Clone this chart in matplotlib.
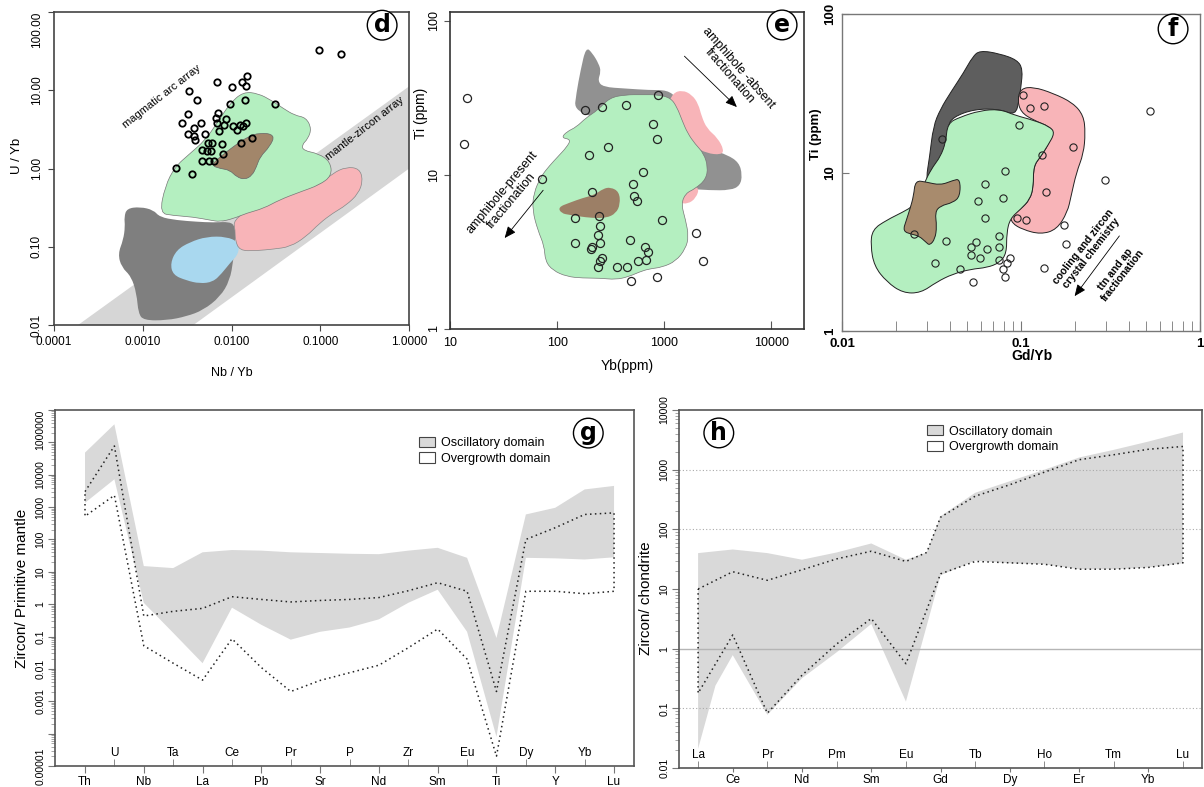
import numpy as np
import matplotlib
matplotlib.use('Agg')
import matplotlib.pyplot as plt
from matplotlib.path import Path
from matplotlib.patches import PathPatch, Polygon, Patch
from matplotlib.ticker import FixedLocator, FixedFormatter, LogLocator, NullFormatter

plt.rcParams['font.family'] = ['Liberation Sans', 'DejaVu Sans']

# ---------------- panel d : U/Yb vs Nb/Yb (log10 values) ----------------
d_band = [[-3.73, -2.0], [0.0, 1.05], [0.0, 0.0], [-2.43, -2.0]]
d_green = [[-2.81, -0.57], [-2.75, -0.23], [-2.64, 0.02], [-2.47, 0.19], [-2.30, 0.36],
           [-2.17, 0.57], [-2.02, 0.83], [-1.87, 0.98], [-1.70, 0.96], [-1.55, 0.87],
           [-1.42, 0.77], [-1.29, 0.68], [-1.16, 0.65], [-1.10, 0.51], [-1.14, 0.38],
           [-1.21, 0.30], [-1.19, 0.23], [-1.02, 0.19], [-0.89, 0.09], [-0.87, -0.09],
           [-1.01, -0.21], [-1.23, -0.30], [-1.46, -0.40], [-1.64, -0.51], [-1.83, -0.57],
           [-1.98, -0.64], [-2.13, -0.68], [-2.24, -0.66], [-2.43, -0.62], [-2.66, -0.60]]
d_brown = [[-2.23, 0.04], [-2.13, 0.15], [-1.98, 0.28], [-1.83, 0.40], [-1.68, 0.46],
           [-1.51, 0.43], [-1.57, 0.28], [-1.68, 0.15], [-1.72, 0.02], [-1.77, -0.09],
           [-1.85, -0.14], [-1.94, -0.11], [-2.02, -0.02], [-2.13, 0.0]]
d_pink = [[-1.98, -0.66], [-1.76, -0.49], [-1.49, -0.36], [-1.23, -0.28], [-1.01, -0.21],
          [-0.86, -0.06], [-0.71, 0.02], [-0.56, 0.0], [-0.52, -0.15], [-0.57, -0.32],
          [-0.71, -0.47], [-0.86, -0.57], [-1.01, -0.70], [-1.16, -0.87], [-1.34, -1.0],
          [-1.53, -1.03], [-1.72, -1.05], [-1.91, -1.05], [-1.96, -0.91], [-1.96, -0.79]]
d_gray = [[-3.18, -0.51], [-3.03, -0.49], [-2.88, -0.53], [-2.81, -0.62], [-2.62, -0.66],
          [-2.39, -0.68], [-2.21, -0.69], [-2.02, -0.68], [-1.96, -0.74], [-1.96, -0.91],
          [-1.98, -1.17], [-2.02, -1.43], [-2.13, -1.64], [-2.32, -1.81], [-2.51, -1.89],
          [-2.73, -1.94], [-2.99, -1.94], [-3.05, -1.85], [-3.07, -1.60], [-3.13, -1.38],
          [-3.24, -1.26], [-3.28, -1.09], [-3.22, -0.91], [-3.20, -0.74], [-3.21, -0.62]]
d_blue = [[-2.69, -1.21], [-2.62, -1.04], [-2.47, -0.94], [-2.28, -0.87], [-2.06, -0.87],
          [-1.92, -0.94], [-1.92, -1.09], [-2.02, -1.21], [-2.11, -1.34], [-2.21, -1.45],
          [-2.36, -1.47], [-2.51, -1.43], [-2.66, -1.36]]
d_pts_x = [-1.02, -0.77, -1.83, -1.88, -1.84, -2.16, -1.99, -2.48, -2.39, -2.02, -1.85, -1.51,
           -2.49, -2.15, -2.56, -2.34, -2.17, -2.06, -2.16, -2.09, -1.98, -1.91, -1.84, -1.87,
           -1.94, -2.42, -2.49, -2.30, -2.14, -2.41, -2.42, -2.27, -2.22, -2.11, -2.33, -2.28,
           -2.23, -2.10, -1.89, -1.77, -2.33, -2.25, -2.20, -2.63, -2.45]
d_pts_y = [1.52, 1.47, 1.18, 1.11, 1.05, 1.10, 1.04, 0.99, 0.87, 0.83, 0.87, 0.82,
           0.70, 0.71, 0.58, 0.58, 0.64, 0.63, 0.58, 0.55, 0.54, 0.55, 0.58, 0.54,
           0.49, 0.52, 0.44, 0.44, 0.48, 0.36, 0.42, 0.32, 0.33, 0.31, 0.24, 0.23,
           0.23, 0.19, 0.33, 0.39, 0.09, 0.09, 0.10, 0.01, -0.07]

# ---------------- panel e : Ti vs Yb (log10 values) ----------------
e_green = [[2.49, 1.50], [2.64, 1.52], [2.80, 1.52], [2.94, 1.52], [3.06, 1.50], [3.12, 1.44],
           [3.17, 1.35], [3.22, 1.27], [3.29, 1.20], [3.37, 1.14], [3.41, 1.05], [3.39, 0.97],
           [3.29, 0.91], [3.20, 0.88], [3.16, 0.81], [3.20, 0.71], [3.23, 0.60], [3.20, 0.52],
           [3.11, 0.44], [2.98, 0.40], [2.86, 0.39], [2.77, 0.37], [2.67, 0.34], [2.55, 0.32],
           [2.40, 0.33], [2.24, 0.33], [2.09, 0.34], [1.96, 0.38], [1.89, 0.44], [1.88, 0.54],
           [1.82, 0.64], [1.77, 0.77], [1.78, 0.88], [1.85, 0.99], [1.93, 1.06], [2.01, 1.12],
           [2.09, 1.18], [2.13, 1.23], [2.04, 1.24], [2.09, 1.28], [2.18, 1.31], [2.27, 1.37],
           [2.38, 1.42]]
e_gray = [[2.16, 1.41], [2.18, 1.53], [2.22, 1.68], [2.27, 1.83], [2.33, 1.79], [2.39, 1.72],
          [2.41, 1.67], [2.38, 1.61], [2.43, 1.57], [2.64, 1.56], [2.86, 1.55], [3.03, 1.55],
          [3.12, 1.50], [3.17, 1.42], [3.23, 1.31], [3.33, 1.23], [3.45, 1.16], [3.59, 1.13],
          [3.70, 1.08], [3.73, 1.00], [3.71, 0.93], [3.62, 0.90], [3.42, 0.90], [3.23, 0.91],
          [3.05, 1.01], [2.80, 1.23], [2.49, 1.35]]
e_pink = [[3.08, 1.53], [3.17, 1.55], [3.26, 1.52], [3.32, 1.46], [3.35, 1.38], [3.40, 1.30],
          [3.50, 1.24], [3.56, 1.16], [3.53, 1.13], [3.40, 1.14], [3.29, 1.18], [3.26, 1.05],
          [3.23, 0.93], [3.33, 0.92], [3.30, 0.85], [3.22, 0.81], [3.14, 0.82], [3.08, 0.92],
          [3.05, 1.16], [3.03, 1.44]]
e_brown = [[2.01, 0.79], [2.12, 0.82], [2.24, 0.85], [2.35, 0.87], [2.43, 0.91], [2.50, 0.92],
           [2.58, 0.89], [2.59, 0.81], [2.55, 0.75], [2.46, 0.72], [2.33, 0.72], [2.21, 0.73],
           [2.12, 0.74], [2.04, 0.75]]
e_pts_x = [1.16, 1.13, 2.94, 2.26, 2.42, 2.64, 2.90, 2.93, 2.30, 2.48, 2.80, 1.86, 2.33,
           2.71, 2.72, 2.75, 2.17, 2.39, 2.40, 2.98, 2.17, 2.38, 2.40, 2.33, 2.32, 2.68,
           2.82, 2.85, 2.83, 2.76, 2.42, 2.40, 2.38, 2.56, 2.65, 2.93, 2.69, 3.30, 3.36]
e_pts_y = [1.50, 1.20, 1.52, 1.42, 1.44, 1.45, 1.33, 1.23, 1.13, 1.18, 1.02, 0.97, 0.89,
           0.94, 0.86, 0.83, 0.72, 0.73, 0.67, 0.71, 0.56, 0.61, 0.56, 0.53, 0.52, 0.58,
           0.53, 0.50, 0.45, 0.44, 0.46, 0.44, 0.40, 0.40, 0.40, 0.34, 0.31, 0.62, 0.44]

# ---------------- panel f : Ti vs Gd/Yb (log10 values) ----------------
f_dark = [[-1.53, 0.96], [-1.51, 1.10], [-1.49, 1.29], [-1.45, 1.40], [-1.39, 1.51],
          [-1.32, 1.63], [-1.27, 1.73], [-1.23, 1.77], [-1.12, 1.75], [-1.02, 1.71],
          [-0.99, 1.65], [-1.00, 1.54], [-1.01, 1.46], [-1.03, 1.36], [-1.12, 1.40],
          [-1.26, 1.40], [-1.38, 1.35], [-1.41, 1.29], [-1.41, 1.12], [-1.45, 1.02],
          [-1.51, 0.95]]
f_pink = [[-1.00, 1.53], [-0.93, 1.54], [-0.82, 1.50], [-0.71, 1.44], [-0.65, 1.36],
          [-0.64, 1.25], [-0.65, 1.12], [-0.69, 1.00], [-0.72, 0.85], [-0.74, 0.75],
          [-0.80, 0.64], [-0.89, 0.61], [-0.99, 0.64], [-1.05, 0.68], [-1.06, 0.73],
          [-1.00, 0.77], [-0.95, 0.83], [-0.93, 0.91], [-0.93, 1.04], [-0.89, 1.10],
          [-0.85, 1.17], [-0.82, 1.25], [-0.84, 1.29], [-0.93, 1.33], [-1.00, 1.38],
          [-1.02, 1.46]]
f_green = [[-1.41, 1.31], [-1.34, 1.35], [-1.23, 1.39], [-1.12, 1.40], [-1.03, 1.36],
           [-0.93, 1.33], [-0.84, 1.29], [-0.81, 1.25], [-0.85, 1.17], [-0.89, 1.10],
           [-0.93, 1.04], [-0.93, 0.91], [-0.95, 0.83], [-1.00, 0.77], [-1.06, 0.71],
           [-1.08, 0.62], [-1.08, 0.49], [-1.12, 0.43], [-1.19, 0.40], [-1.28, 0.39],
           [-1.38, 0.36], [-1.47, 0.31], [-1.56, 0.24], [-1.66, 0.24], [-1.75, 0.31],
           [-1.82, 0.41], [-1.84, 0.54], [-1.83, 0.64], [-1.75, 0.70], [-1.66, 0.75],
           [-1.60, 0.79], [-1.56, 0.87], [-1.53, 0.96], [-1.49, 1.04], [-1.45, 1.10],
           [-1.42, 1.19]]
f_brown = [[-1.59, 0.95], [-1.53, 0.94], [-1.45, 0.92], [-1.38, 0.95], [-1.34, 0.96],
           [-1.34, 0.85], [-1.38, 0.81], [-1.45, 0.79], [-1.48, 0.75], [-1.47, 0.66],
           [-1.48, 0.58], [-1.51, 0.54], [-1.53, 0.56], [-1.57, 0.60], [-1.61, 0.61],
           [-1.66, 0.63], [-1.64, 0.70], [-1.62, 0.77], [-1.60, 0.85]]
f_pts_x = [-0.99, -0.95, -0.87, -0.28, -1.01, -1.44, -0.71, -0.88, -1.09, -1.20, -0.53,
           -1.10, -1.24, -0.86, -1.20, -1.02, -0.97, -0.76, -1.60, -1.42, -1.12, -1.25,
           -1.28, -1.28, -1.19, -1.12, -0.75, -1.23, -1.12, -1.08, -1.06, -1.10, -1.48,
           -1.34, -1.09, -1.27, -0.87]
f_pts_y = [1.49, 1.41, 1.42, 1.39, 1.30, 1.21, 1.16, 1.11, 1.01, 0.93, 0.95,
           0.84, 0.82, 0.88, 0.71, 0.71, 0.70, 0.67, 0.61, 0.57, 0.60, 0.56,
           0.53, 0.48, 0.52, 0.53, 0.55, 0.46, 0.45, 0.43, 0.46, 0.39, 0.43,
           0.39, 0.34, 0.31, 0.40]

# ---------------- panel g : primitive-mantle normalised ----------------
g_elements = ['Th', 'U', 'Nb', 'Ta', 'La', 'Ce', 'Pb', 'Pr', 'Sr', 'P', 'Nd', 'Zr', 'Sm',
              'Eu', 'Ti', 'Dy', 'Y', 'Yb', 'Lu']
g_osc_upper = [4.8e4, 3.6e5, 15, 13, 40, 47, 45, 40, 38, 36, 35, 45, 55, 27, 0.09, 590, 950, 3500, 4500]
g_osc_lower = [1350, 7200, 1.1, 0.13, 0.015, 0.78, 0.23, 0.08, 0.14, 0.19, 0.34, 1.1, 2.8, 0.14,
               8e-5, 27, 26, 24, 28]
g_over_upper = [3000, 7.7e4, 0.43, 0.6, 0.74, 1.7, 1.4, 1.17, 1.3, 1.4, 1.6, 2.6, 4.6, 2.5,
                0.002, 100, 230, 590, 660]
g_over_lower = [520, 2300, 0.052, 0.015, 0.0045, 0.085, 0.011, 0.002, 0.0044, 0.0076, 0.013,
                0.045, 0.17, 0.02, 2e-5, 2.5, 2.5, 2.1, 2.5]
g_ylabels = ['0.00001', '', '0.001', '0.01', '0.1', '1', '10', '100', '1000', '10000', '', '1000000']

# ---------------- panel h : chondrite normalised REE ----------------
h_elements = ['La', 'Ce', 'Pr', 'Nd', 'Pm', 'Sm', 'Eu', 'Gd', 'Tb', 'Dy', 'Ho', 'Er', 'Tm', 'Yb', 'Lu']
h_osc_upper_x = [0, 1, 2, 3, 4, 5, 6, 6.6, 7, 8, 9, 10, 11, 12, 13, 14]
h_osc_upper = [40, 46, 40, 31, 41, 58, 31, 41, 166, 410, 640, 1000, 1600, 2150, 2960, 4200]
h_osc_lower_x = [0, 0.5, 1, 2, 3, 4, 5, 6, 7, 8, 9, 10, 11, 12, 13, 14]
h_osc_lower = [0.021, 0.24, 0.78, 0.078, 0.32, 0.87, 2.6, 0.13, 17, 30, 27, 26, 21.5, 21.5, 23, 27]
h_over_upper_x = [0, 1, 2, 3, 4, 5, 6, 6.6, 7, 8, 9, 10, 11, 12, 13, 14]
h_over_upper = [10, 19.5, 14, 21, 32, 43, 29, 41, 160, 360, 560, 910, 1470, 1780, 2200, 2450]
h_over_lower_x = list(range(15))
h_over_lower = [0.18, 1.7, 0.083, 0.36, 1.2, 3.2, 0.56, 18, 29, 27.5, 26, 21.5, 21.5, 23, 27.5]
h_ylabels = ['0.01', '0.1', '1', '10', '100', '1000', '10000']

GREEN = '#b4efc0'
PINK = '#f8b4b8'
BROWN = '#a2866a'
BLUE = '#a9d8ef'


def blob(ax, pts, fc, ec='none', lw=0.6, z=1):
    # smooth closed outline through quadratic curves (log space -> data)
    p = np.array(pts, dtype=float)
    mids = (p + np.roll(p, -1, axis=0)) / 2
    verts = [mids[-1]]
    codes = [Path.MOVETO]
    for i in range(len(p)):
        verts += [p[i], mids[i]]
        codes += [Path.CURVE3, Path.CURVE3]
    verts = 10 ** np.array(verts)
    ax.add_patch(PathPatch(Path(verts, codes), fc=fc, ec=ec, lw=lw, zorder=z))


def letter(ax, x, y, s):
    ax.text(x, y, s, transform=ax.transAxes, fontsize=17, fontweight='bold',
            ha='center', va='center', zorder=10, family='DejaVu Sans',
            bbox=dict(boxstyle='circle,pad=0.12', fc='white', ec='black', lw=1))


def spines(ax, c, lw):
    for s in ax.spines.values():
        s.set_color(c)
        s.set_linewidth(lw)


def top_label_down(ax):
    # the topmost y tick label hangs below its tick, as in the original figure
    ax.get_yticklabels()[-1].set_va('top')


fig = plt.figure(figsize=(12.04, 7.87), dpi=100)

# ======================= d =======================
ax = fig.add_axes([0.0449, 0.5870, 0.2949, 0.3977])
ax.set_xscale('log')
ax.set_yscale('log')
ax.set_xlim(1e-4, 1)
ax.set_ylim(0.01, 100)
ax.add_patch(Polygon(10 ** np.array(d_band), closed=True, fc='#d6d6d6', ec='none', zorder=0))
blob(ax, d_gray, '#7f7f7f', z=1)
blob(ax, d_blue, BLUE, z=2)
blob(ax, d_pink, PINK, ec='#888', lw=0.5, z=2)
blob(ax, d_green, GREEN, ec='#777', lw=0.5, z=3)
blob(ax, d_brown, BROWN, ec='#666', lw=0.5, z=4)
ax.plot(10 ** np.array(d_pts_x), 10 ** np.array(d_pts_y), 'o', ms=4.6, mfc='none',
        mec='black', mew=1.3, zorder=5)
ax.text(10 ** -2.79, 10 ** 0.915, 'magmatic arc array', rotation=38, fontsize=8,
        ha='center', va='center')
ax.text(10 ** -0.50, 10 ** 0.51, 'mantle-zircon array', rotation=38, fontsize=8,
        ha='center', va='center')
ax.minorticks_off()
ax.set_xticks([1e-4, 1e-3, 1e-2, 1e-1, 1])
ax.set_xticklabels(['0.0001', '0.0010', '0.0100', '0.1000', '1.0000'])
ax.set_yticks([0.01, 0.1, 1, 10, 100])
ax.set_yticklabels(['0.01', '0.10', '1.00', '10.00', '100.00'], rotation=90, va='center')
top_label_down(ax)
ax.tick_params(labelsize=8.5, length=4, color='#444', pad=4)
ax.set_xlabel('Nb / Yb', fontsize=9)
ax.set_ylabel('U / Yb', fontsize=9.5)
ax.xaxis.set_label_coords(0.5, -0.134)
ax.yaxis.set_label_coords(-0.087, 0.54)
spines(ax, '#444', 1.2)
letter(ax, 0.924, 0.958, 'd')

# ======================= e =======================
ax = fig.add_axes([0.3738, 0.5820, 0.2940, 0.4028])
ax.set_xscale('log')
ax.set_yscale('log')
ax.set_xlim(10, 2.03e4)
ax.set_ylim(1, 114)
blob(ax, e_gray, '#919191', z=1)
blob(ax, e_pink, PINK, z=2)
blob(ax, e_green, GREEN, ec='#777', lw=0.5, z=3)
blob(ax, e_brown, '#9c7f66', z=4)
ax.plot(10 ** np.array(e_pts_x), 10 ** np.array(e_pts_y), 'o', ms=5.8, mfc='none',
        mec='#222', mew=0.9, zorder=5)
ax.annotate('', xy=(10 ** 3.68, 10 ** 1.44), xytext=(10 ** 3.19, 10 ** 1.77),
            arrowprops=dict(arrowstyle='-|>,head_length=0.7,head_width=0.3', color='#777',
                            lw=0.6, fc='black', ec='black', shrinkA=0, shrinkB=0), zorder=6)
ax.annotate('', xy=(10 ** 1.51, 10 ** 0.59), xytext=(10 ** 1.87, 10 ** 0.90),
            arrowprops=dict(arrowstyle='-|>,head_length=0.7,head_width=0.3', color='#777',
                            lw=0.6, fc='black', ec='black', shrinkA=0, shrinkB=0), zorder=6)
ax.text(10 ** 3.65, 10 ** 1.67, 'amphibole -absent\nfractionation', rotation=-49,
        fontsize=9, ha='center', va='center', linespacing=1.0)
ax.text(10 ** 1.53, 10 ** 0.86, 'amphibole-present\nfractionation', rotation=50,
        fontsize=9, ha='center', va='center', linespacing=1.0)
ax.minorticks_off()
ax.set_xticks([10, 100, 1000, 10000])
ax.set_xticklabels(['10', '100', '1000', '10000'])
ax.set_yticks([1, 10, 100])
ax.set_yticklabels(['1', '10', '100'], rotation=90, va='center')
ax.tick_params(axis='x', direction='in', length=6, pad=6, labelsize=9, color='#555')
ax.tick_params(axis='y', direction='out', length=4, pad=3, labelsize=9, color='#555')
ax.set_xlabel('Yb(ppm)', fontsize=10)
ax.set_ylabel('Ti (ppm)', fontsize=10)
ax.xaxis.set_label_coords(0.5, -0.095)
ax.yaxis.set_label_coords(-0.062, 0.68)
spines(ax, '#333', 1.2)
letter(ax, 0.938, 0.959, 'e')

# ======================= f =======================
ax = fig.add_axes([0.6993, 0.5794, 0.2973, 0.4028])
ax.set_xscale('log')
ax.set_yscale('log')
ax.set_xlim(0.01, 1)
ax.set_ylim(1, 100)
blob(ax, f_dark, '#5e5e5e', ec='#222', lw=0.7, z=1)
blob(ax, f_pink, PINK, ec='#222', lw=0.7, z=1)
blob(ax, f_green, GREEN, ec='#222', lw=0.7, z=2)
blob(ax, f_brown, '#a88b6d', ec='#222', lw=0.7, z=3)
ax.plot(10 ** np.array(f_pts_x), 10 ** np.array(f_pts_y), 'o', ms=5.2, mfc='none',
        mec='#222', mew=0.8, zorder=5)
ax.annotate('', xy=(10 ** -0.70, 10 ** 0.22), xytext=(10 ** -0.45, 10 ** 0.60),
            arrowprops=dict(arrowstyle='-|>,head_length=0.7,head_width=0.3', color='black',
                            lw=0.6, shrinkA=0, shrinkB=0), zorder=6)
ax.text(10 ** -0.63, 10 ** 0.51, 'cooling and zircon\ncrystal chemistry', rotation=52,
        fontsize=7.5, fontweight='bold', ha='center', va='center', linespacing=1.0)
ax.text(10 ** -0.45, 10 ** 0.37, 'ttn and ap\nfractionation', rotation=52,
        fontsize=7.5, fontweight='bold', ha='center', va='center', linespacing=1.0)
ax.set_xticks([0.01, 0.1, 1])
ax.set_xticklabels(['0.01', '0.1', '1'], fontweight='bold')
ax.xaxis.set_minor_locator(LogLocator(base=10, subs=np.arange(2, 10)))
ax.xaxis.set_minor_formatter(NullFormatter())
ax.set_yticks([1, 10, 100])
ax.set_yticklabels(['1', '10', '100'], rotation=90, va='center', fontweight='bold')
ax.yaxis.set_minor_locator(plt.NullLocator())
ax.tick_params(axis='x', which='both', direction='in', length=7, pad=5, labelsize=9.5,
               color='#777')
ax.tick_params(axis='y', direction='in', length=5, pad=4, labelsize=9.5, color='#777')
ax.set_xlabel('Gd/Yb', fontsize=10, fontweight='bold')
ax.set_ylabel('Ti (ppm)', fontsize=9.5, fontweight='bold')
ax.xaxis.set_label_coords(0.53, -0.058)
ax.yaxis.set_label_coords(-0.056, 0.62)
spines(ax, '#777', 1.0)
letter(ax, 0.925, 0.953, 'f')


def element_axis(ax, names, below_start, length, pad):
    n = len(names)
    below = list(range(below_start, n, 2))
    above = list(range(1 - below_start, n, 2))
    ax.xaxis.set_major_locator(FixedLocator(below))
    ax.xaxis.set_major_formatter(FixedFormatter([names[i] for i in below]))
    ax.xaxis.set_minor_locator(FixedLocator(above))
    ax.xaxis.set_minor_formatter(FixedFormatter([names[i] for i in above]))
    ax.tick_params(axis='x', which='major', direction='out', length=length, pad=pad,
                   labelsize=8.5, color='#777')
    ax.tick_params(axis='x', which='minor', direction='in', length=5, pad=-14,
                   labelsize=8.5, color='#777')


def spider_legend(ax, anchor):
    h = [Patch(fc='#d9d9d9', ec='#444', lw=0.8, label='Oscillatory domain'),
         Patch(fc='white', ec='#444', lw=0.8, label='Overgrowth domain')]
    ax.legend(handles=h, loc='upper left', bbox_to_anchor=anchor, frameon=False,
              fontsize=9, handlelength=1.3, handleheight=0.9, handletextpad=0.5,
              labelspacing=0.25, borderpad=0, borderaxespad=0)


def log_y(ax, lo, hi, labels):
    ax.set_yscale('log')
    ax.set_ylim(10.0 ** lo, 10.0 ** hi)
    ax.yaxis.set_major_locator(FixedLocator(10.0 ** np.arange(lo, hi + 1)))
    ax.yaxis.set_major_formatter(FixedFormatter(labels))
    ax.yaxis.set_minor_locator(LogLocator(base=10, subs=np.arange(2, 10), numticks=30))
    ax.yaxis.set_minor_formatter(NullFormatter())
    ax.tick_params(axis='y', which='major', length=5, labelsize=7.5, labelrotation=90,
                   color='#777', pad=2)
    ax.tick_params(axis='y', which='minor', length=3, color='#999')


dots = (0, (1, 2.2))

# ======================= g =======================
ax = fig.add_axes([0.0457, 0.0267, 0.4809, 0.4524])
log_y(ax, -5, 6, g_ylabels)
ax.set_xlim(-1.02, 18.68)
gx = np.arange(len(g_elements))
ax.fill(np.r_[gx, gx[::-1]], np.r_[g_osc_upper, g_osc_lower[::-1]], fc='#d9d9d9',
        ec='none', zorder=1)
ax.plot(np.r_[gx, gx[::-1], gx[:1]], np.r_[g_over_upper, g_over_lower[::-1], g_over_upper[:1]],
        ls=dots, color='#222', lw=1.1, zorder=3)
element_axis(ax, g_elements, 0, 5, 2)
for t in ax.yaxis.get_majorticklabels():
    t.set_va('center')
ax.get_yticklabels()[-1].set_va('top')
ax.set_ylabel('Zircon/ Primitive mantle', fontsize=11)
ax.yaxis.set_label_coords(-0.045, 0.5)
spider_legend(ax, (0.628, 0.925))
spines(ax, '#555', 1.2)
letter(ax, 0.921, 0.935, 'g')

# ======================= h =======================
ax = fig.add_axes([0.5640, 0.0241, 0.4344, 0.4549])
log_y(ax, -2, 4, h_ylabels)
ax.set_xlim(-0.55, 14.55)
ax.fill(np.r_[h_osc_upper_x, h_osc_lower_x[::-1]], np.r_[h_osc_upper, h_osc_lower[::-1]],
        fc='#d9d9d9', ec='none', zorder=1)
for v in [1000, 100, 0.1]:
    ax.axhline(v, color='#aaaaaa', ls=(0, (1, 2)), lw=0.8, zorder=2)
ax.axhline(1, color='#b5b5b5', lw=1.0, zorder=2)
ax.plot(np.r_[h_over_upper_x, h_over_lower_x[::-1], h_over_upper_x[:1]],
        np.r_[h_over_upper, h_over_lower[::-1], h_over_upper[:1]],
        ls=dots, color='#222', lw=1.1, zorder=3)
element_axis(ax, h_elements, 1, 3, 1)
for t in ax.yaxis.get_majorticklabels():
    t.set_va('center')
ax.set_ylabel('Zircon/ chondrite', fontsize=11)
ax.yaxis.set_label_coords(-0.05, 0.475)
spider_legend(ax, (0.474, 0.958))
spines(ax, '#555', 1.2)
letter(ax, 0.076, 0.936, 'h')

fig.savefig('out.png', dpi=100, facecolor='white')
